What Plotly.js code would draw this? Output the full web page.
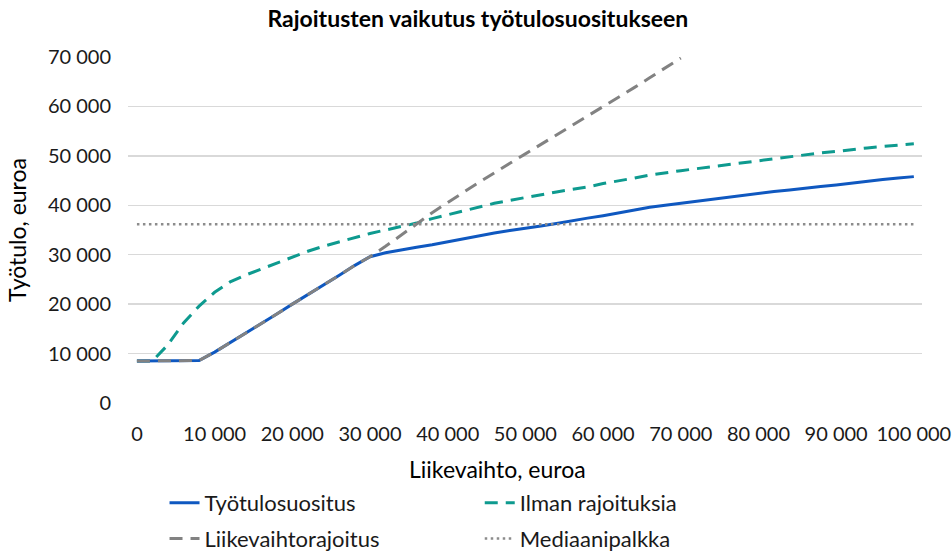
<!DOCTYPE html>
<html>
<head>
<meta charset="utf-8">
<script src="https://cdn.plot.ly/plotly-3.0.1.min.js"></script>
<style>
  body { margin: 0; background: #fff; }
  #chart { width: 952px; height: 553px; }
</style>
</head>
<body>
<div id="chart"></div>
<script>
// Liikevaihto (x), euroa
var liikevaihto = [0, 2000, 4000, 6000, 8000, 10000, 12000, 14000, 16000, 18000,
  20000, 22000, 24000, 26000, 28000, 30000, 32000, 34000, 36000, 38000,
  40000, 42000, 44000, 46000, 48000, 50000, 52000, 54000, 56000, 58000,
  60000, 62000, 64000, 66000, 68000, 70000, 72000, 74000, 76000, 78000,
  80000, 82000, 84000, 86000, 88000, 90000, 92000, 94000, 96000, 98000, 100000];

var tyotulosuositus = [8500, 8500, 8500, 8500, 8600, 10300, 12200, 14200, 16100, 18000,
  20000, 21900, 23900, 25800, 27800, 29600, 30400, 31000, 31500, 32000,
  32600, 33200, 33900, 34400, 34900, 35300, 35800, 36300, 36900, 37400,
  37900, 38500, 39000, 39600, 40000, 40400, 40900, 41300, 41700, 42100,
  42500, 42800, 43100, 43500, 43800, 44100, 44500, 44800, 45200, 45500, 45800];

var ilmanRajoituksia = [8500, 8500, 11800, 16200, 19600, 22400, 24500, 25900, 27100, 28300,
  29600, 30700, 31700, 32600, 33500, 34300, 35000, 35700, 36400, 37300,
  38100, 38900, 39700, 40400, 41000, 41600, 42200, 42700, 43200, 43700,
  44400, 44900, 45500, 46100, 46600, 47000, 47400, 47800, 48300, 48700,
  49100, 49500, 49850, 50200, 50600, 50900, 51300, 51600, 51900, 52200, 52450];

// only up to 70 000 (axis max)
var liikevaihtorajoitus = [8500, 8500, 8500, 8500, 8600, 10300, 12200, 14200, 16100, 18000,
  20000, 21900, 23900, 25800, 27800, 29600, 31700, 33900, 36200, 38500,
  40600, 42600, 44600, 46600, 48500, 50400, 52300, 54200, 56100, 58000,
  59900, 61900, 63800, 65800, 67800, 69800];

var mediaaniX = [0, 100000];
var mediaanipalkka = [36150, 36150];

var xTicks = [0, 10000, 20000, 30000, 40000, 50000, 60000, 70000, 80000, 90000, 100000];
var yTicks = [0, 10000, 20000, 30000, 40000, 50000, 60000, 70000];

var FONT = 'Lato, sans-serif';
var TXT = '#1a1a1a';

var data = [
  {
    name: 'Ilman rajoituksia',
    x: liikevaihto, y: ilmanRajoituksia,
    type: 'scatter', mode: 'lines',
    line: {color: '#0E9A8F', width: 3, dash: '13px,8px'},
    legend: 'legend2', legendgroup: 'b1'
  },
  {
    name: 'Työtulosuositus',
    x: liikevaihto, y: tyotulosuositus,
    type: 'scatter', mode: 'lines',
    line: {color: '#0F58C0', width: 3},
    legend: 'legend', legendgroup: 'a1'
  },
  {
    name: 'Liikevaihtorajoitus',
    x: liikevaihto.slice(0, liikevaihtorajoitus.length), y: liikevaihtorajoitus,
    type: 'scatter', mode: 'lines',
    line: {color: '#828282', width: 3, dash: '13px,8px'},
    legend: 'legend', legendgroup: 'a2'
  },
  {
    name: 'Mediaanipalkka',
    x: mediaaniX, y: mediaanipalkka,
    type: 'scatter', mode: 'lines',
    line: {color: '#8C8C8C', width: 2.5, dash: '2.5px,3.5px'},
    legend: 'legend2', legendgroup: 'b2'
  }
];

var legendBase = {
  orientation: 'v',
  yanchor: 'bottom',
  y: -0.4538,
  font: {family: FONT, size: 22, color: TXT},
  tracegroupgap: 4,
  bgcolor: 'rgba(0,0,0,0)',
  itemwidth: 30
};

var layout = {
  width: 952,
  height: 553,
  margin: {l: 128, r: 30, t: 57, b: 150, autoexpand: false},
  paper_bgcolor: '#ffffff',
  plot_bgcolor: '#ffffff',
  separators: ', ',
  font: {family: FONT, size: 20, color: TXT},
  title: {
    text: '<b>Rajoitusten vaikutus työtulosuositukseen</b>',
    font: {family: FONT, size: 23, color: '#000000'},
    x: 0.502, xref: 'container', xanchor: 'center',
    y: 0.966, yanchor: 'middle'
  },
  xaxis: {
    range: [-1150, 101050],
    tickvals: xTicks,
    tickformat: ',d',
    showgrid: false,
    zeroline: false,
    showline: false,
    ticks: '',
    ticklabelstandoff: 17,
    tickfont: {family: FONT, size: 20, color: TXT},
    fixedrange: true
  },
  yaxis: {
    range: [0, 70000],
    tickvals: yTicks,
    tickformat: ',d',
    showgrid: true,
    gridcolor: '#D9D9D9',
    gridwidth: 1.5,
    zeroline: false,
    showline: false,
    ticks: '',
    ticklabelstandoff: 16,
    tickfont: {family: FONT, size: 20, color: TXT},
    title: {text: 'Työtulo, euroa', font: {family: FONT, size: 23, color: '#000000'}, standoff: 14},
    fixedrange: true
  },
  legend: Object.assign({}, legendBase, {x: 0.046, xanchor: 'left'}),
  legend2: Object.assign({}, legendBase, {x: 0.443, xanchor: 'left'}),
  annotations: [{
    text: 'Liikevaihto, euroa',
    xref: 'paper', yref: 'paper',
    x: 0.465, y: -0.19,
    xanchor: 'center', yanchor: 'middle',
    showarrow: false,
    font: {family: FONT, size: 23, color: '#000000'}
  }]
};

Plotly.newPlot('chart', data, layout, {displayModeBar: false, staticPlot: true});
</script>
</body>
</html>
